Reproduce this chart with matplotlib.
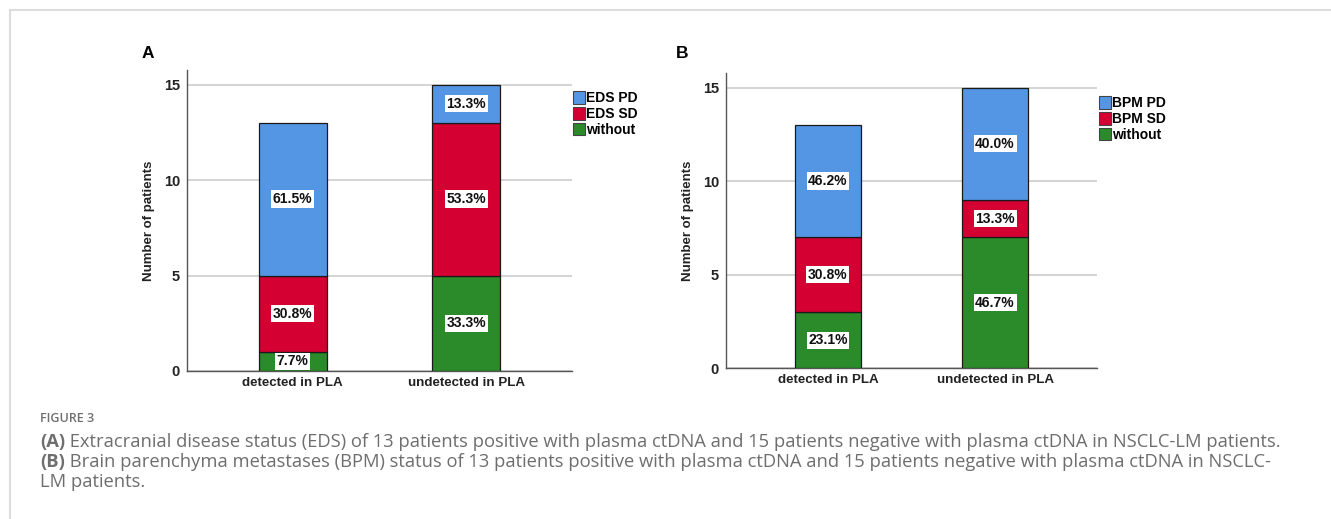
import matplotlib
matplotlib.use('Agg')
import matplotlib.pyplot as plt
from matplotlib.lines import Line2D
from matplotlib.patches import Patch

# data: patient counts per group, stacked bottom -> top (without, SD, PD)
groups = ['detected in PLA', 'undetected in PLA']
eds_without = [1, 5]
eds_sd = [4, 8]
eds_pd = [8, 2]
bpm_without = [3, 7]
bpm_sd = [4, 2]
bpm_pd = [6, 6]
eds_names = ['EDS PD', 'EDS SD', 'without']
bpm_names = ['BPM PD', 'BPM SD', 'without']
y_ticks = [0, 5, 10, 15]

col_pd = '#5596e4'
col_sd = '#d40032'
col_wo = '#2b8a2a'

plt.rcParams['font.family'] = ['Liberation Sans', 'DejaVu Sans']

fig = plt.figure(figsize=(13.31, 5.19), dpi=100)


def stacked_panel(rect, without, sd, pd_, names, letter, letter_xy, leg_anchor):
    ax = fig.add_axes(rect)
    x = list(range(len(groups)))
    totals = [a + b + c for a, b, c in zip(without, sd, pd_)]
    bottoms = [0] * len(groups)
    for vals, col in [(without, col_wo), (sd, col_sd), (pd_, col_pd)]:
        ax.bar(x, vals, width=0.39, bottom=bottoms, color=col,
               edgecolor='#1a1a1a', linewidth=0.9, zorder=3)
        for i, v in enumerate(vals):
            pct = v / totals[i] * 100
            ax.text(x[i], bottoms[i] + v / 2, f'{pct:.1f}%', ha='center', va='center',
                    fontsize=10, fontweight='bold', color='#111111', zorder=4,
                    bbox=dict(facecolor='white', edgecolor='none', pad=1.2))
        bottoms = [b + v for b, v in zip(bottoms, vals)]

    ax.set_xlim(-0.61, 1.61)
    ax.set_ylim(0, 15.76)
    ax.set_yticks(y_ticks)
    ax.set_xticks(x)
    ax.set_xticklabels(groups, fontsize=9.6, fontweight='bold', color='#222222')
    for t in ax.get_yticklabels():
        t.set_fontweight('bold')
    ax.tick_params(axis='y', length=0, pad=5, labelsize=10.5, labelcolor='#222222')
    ax.tick_params(axis='x', length=0, pad=4)
    ax.yaxis.grid(True, color='#d4d4d4', linewidth=1.4, zorder=0)
    ax.set_axisbelow(True)
    for s in ['top', 'right']:
        ax.spines[s].set_visible(False)
    for s in ['left', 'bottom']:
        ax.spines[s].set_color('#555555')
        ax.spines[s].set_linewidth(1.0)
    ax.set_ylabel('Number of patients', fontsize=9.5, fontweight='bold',
                  color='#222222', labelpad=6)

    handles = [Patch(facecolor=c, edgecolor='#444444', linewidth=0.8)
               for c in (col_pd, col_sd, col_wo)]
    ax.legend(handles, names, loc='upper left', bbox_to_anchor=leg_anchor,
              frameon=False, borderpad=0, handlelength=0.85, handleheight=1.0,
              handletextpad=0.1, labelspacing=0.12,
              prop=dict(size=10, weight='bold'))
    fig.text(letter_xy[0], letter_xy[1], letter, fontsize=12.5, fontweight='bold',
             ha='center', va='center')
    return ax


stacked_panel([187 / 1331, 148 / 519, 385 / 1331, 301 / 519],
              eds_without, eds_sd, eds_pd, eds_names, 'A',
              (148 / 1331, 1 - 53 / 519), (0.985, 0.952))
stacked_panel([726 / 1331, 150.7 / 519, 371 / 1331, 295 / 519],
              bpm_without, bpm_sd, bpm_pd, bpm_names, 'B',
              (682 / 1331, 1 - 53 / 519), (0.987, 0.945))

# light frame along top and left edges
fig.add_artist(Line2D([10 / 1331, 1], [1 - 10 / 519, 1 - 10 / 519],
                      transform=fig.transFigure, color='#dcdcdc', linewidth=1.5))
fig.add_artist(Line2D([10 / 1331, 10 / 1331], [0, 1 - 10 / 519],
                      transform=fig.transFigure, color='#dcdcdc', linewidth=1.5))

# caption
cap_font = ['Open Sans', 'DejaVu Sans']
cap_col = '#6e6e6e'
cap_size = 13.2
fig.text(40 / 1331, 1 - 419 / 519, 'FIGURE 3', family=cap_font, fontsize=9,
         color='#6e6e6e', fontweight='semibold', va='center')
cap_lines = [
    ('(A)', ' Extracranial disease status (EDS) of 13 patients positive with plasma ctDNA '
            'and 15 patients negative with plasma ctDNA in NSCLC-LM patients.'),
    ('(B)', ' Brain parenchyma metastases (BPM) status of 13 patients positive with plasma '
            'ctDNA and 15 patients negative with plasma ctDNA in NSCLC-'),
    ('', 'LM patients.'),
]
cap_y = [442, 462, 482]
for (lead, rest), yy in zip(cap_lines, cap_y):
    t = fig.text(40 / 1331, 1 - yy / 519, lead, family=cap_font, fontsize=cap_size,
                 color=cap_col, fontweight='bold', va='center')
    if lead:
        fig.canvas.draw()
        bb = t.get_window_extent()
        x1 = bb.x1 / fig.bbox.width
    else:
        x1 = 40 / 1331
    fig.text(x1, 1 - yy / 519, rest, family=cap_font, fontsize=cap_size,
             color=cap_col, va='center')

fig.savefig('out.png', dpi=100)
